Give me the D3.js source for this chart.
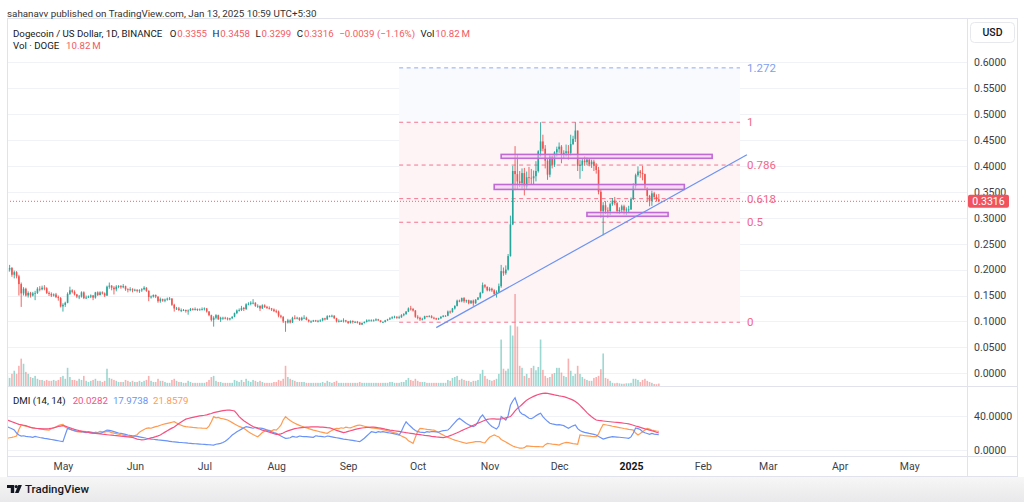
<!DOCTYPE html>
<html><head><meta charset="utf-8">
<script src="https://cdn.jsdelivr.net/npm/d3@7"></script>
<style>
html,body{margin:0;padding:0;background:#fff;}
svg{display:block;font-family:Roboto,"Noto Sans",sans-serif;}
</style></head><body>
<svg id="c" width="1024" height="502"></svg>
<script>
// ---------- DATA ----------
const startDate = "2024-04-07";
const firstOpen = 0.195;
const closes = [
 0.200,0.203,0.190,0.195,0.187,0.172,0.154,0.163,0.150,0.155,0.150,0.154,0.155,0.163,0.162,0.165,0.164,0.155,0.153,0.150,0.152,0.147,0.145,0.129,
 0.132,0.136,0.153,0.160,0.157,0.152,0.148,0.148,0.156,0.145,0.146,0.148,0.150,0.146,0.156,0.151,0.156,0.154,0.150,0.167,0.169,0.165,0.162,0.167,0.168,0.166,0.168,0.162,0.161,0.162,0.160,
 0.161,0.159,0.160,0.162,0.165,0.159,0.147,0.148,0.151,0.148,0.139,0.143,0.140,0.142,0.144,0.144,0.132,0.125,0.125,0.122,0.122,0.122,0.120,0.121,0.124,0.123,0.124,0.122,0.123,0.124,
 0.125,0.119,0.112,0.103,0.107,0.112,0.104,0.107,0.107,0.106,0.104,0.106,0.109,0.116,0.121,0.122,0.126,0.124,0.133,0.134,0.136,0.136,0.130,0.130,0.125,0.131,0.128,0.126,0.125,0.123,0.120,
 0.119,0.111,0.109,0.100,0.098,0.102,0.098,0.107,0.106,0.107,0.103,0.107,0.107,0.103,0.100,0.100,0.102,0.101,0.101,0.102,0.106,0.104,0.110,0.110,0.111,0.106,0.100,0.101,0.101,0.102,0.100,
 0.097,0.101,0.099,0.099,0.098,0.094,0.097,0.099,0.102,0.102,0.102,0.102,0.104,0.102,0.099,0.099,0.102,0.104,0.106,0.108,0.109,0.107,0.108,0.112,0.114,0.119,0.125,0.124,0.121,0.109,
 0.107,0.104,0.105,0.110,0.109,0.110,0.107,0.106,0.104,0.106,0.109,0.111,0.111,0.119,0.118,0.125,0.130,0.140,0.139,0.145,0.139,0.141,0.135,0.140,0.135,0.142,0.146,0.155,0.170,0.167,0.160,
 0.163,0.160,0.153,0.157,0.168,0.197,0.193,0.200,0.226,0.287,0.390,0.384,0.370,0.367,0.386,0.360,0.378,0.377,0.376,0.380,0.390,0.428,0.447,0.433,0.410,0.383,0.418,0.402,0.426,0.432,
 0.437,0.423,0.425,0.428,0.425,0.442,0.452,0.468,0.400,0.402,0.410,0.407,0.412,0.403,0.408,0.400,0.392,0.350,0.313,0.324,0.314,0.313,0.326,0.333,0.328,0.313,0.315,0.322,0.314,0.316,0.316,
 0.336,0.361,0.382,0.389,0.386,0.384,0.357,0.342,0.332,0.347,0.340,0.3355,0.3316
];
const highs = [
 0.205,0.209,0.205,0.198,0.197,0.190,0.175,0.166,0.165,0.158,0.157,0.157,0.159,0.166,0.168,0.169,0.170,0.166,0.158,0.156,0.154,0.155,0.150,0.147,
 0.135,0.138,0.156,0.167,0.162,0.160,0.153,0.151,0.158,0.158,0.150,0.150,0.152,0.151,0.157,0.158,0.158,0.158,0.156,0.169,0.175,0.170,0.168,0.170,0.170,0.170,0.172,0.169,0.164,0.166,0.164,
 0.163,0.162,0.162,0.164,0.168,0.166,0.160,0.150,0.152,0.152,0.148,0.146,0.144,0.144,0.146,0.147,0.145,0.134,0.128,0.128,0.125,0.124,0.123,0.123,0.126,0.126,0.127,0.125,0.125,0.127,
 0.127,0.126,0.120,0.113,0.110,0.114,0.113,0.109,0.109,0.109,0.108,0.107,0.110,0.117,0.123,0.125,0.130,0.128,0.135,0.137,0.139,0.143,0.137,0.133,0.131,0.133,0.133,0.130,0.129,0.126,0.125,
 0.123,0.121,0.113,0.110,0.101,0.105,0.104,0.109,0.112,0.109,0.108,0.109,0.112,0.109,0.104,0.102,0.103,0.103,0.103,0.104,0.107,0.107,0.112,0.112,0.113,0.112,0.107,0.104,0.103,0.106,0.103,
 0.101,0.102,0.102,0.101,0.101,0.099,0.098,0.100,0.104,0.104,0.104,0.104,0.106,0.105,0.102,0.100,0.103,0.105,0.108,0.110,0.111,0.110,0.111,0.114,0.116,0.120,0.127,0.130,0.126,0.122,
 0.112,0.109,0.107,0.111,0.111,0.112,0.112,0.109,0.107,0.107,0.110,0.112,0.112,0.121,0.121,0.126,0.131,0.142,0.142,0.146,0.147,0.142,0.142,0.141,0.142,0.143,0.147,0.157,0.175,0.172,0.167,
 0.166,0.165,0.162,0.160,0.173,0.209,0.204,0.208,0.230,0.304,0.400,0.438,0.421,0.390,0.395,0.396,0.389,0.398,0.394,0.391,0.409,0.430,0.484,0.460,0.440,0.413,0.422,0.420,0.428,0.437,
 0.445,0.440,0.430,0.441,0.440,0.460,0.458,0.484,0.468,0.412,0.414,0.418,0.416,0.414,0.412,0.412,0.405,0.398,0.355,0.330,0.332,0.320,0.329,0.338,0.340,0.330,0.320,0.325,0.325,0.320,0.323,
 0.339,0.366,0.385,0.399,0.392,0.400,0.385,0.359,0.344,0.352,0.350,0.345,0.3458
];
const lows = [
 0.190,0.196,0.186,0.183,0.183,0.150,0.128,0.150,0.148,0.146,0.146,0.148,0.141,0.153,0.158,0.160,0.160,0.153,0.149,0.147,0.148,0.145,0.140,0.127,
 0.119,0.128,0.135,0.151,0.154,0.150,0.145,0.143,0.146,0.143,0.143,0.145,0.145,0.141,0.144,0.149,0.150,0.152,0.147,0.149,0.163,0.160,0.152,0.158,0.164,0.163,0.164,0.159,0.156,0.158,0.156,
 0.158,0.156,0.155,0.157,0.160,0.157,0.139,0.144,0.146,0.145,0.136,0.136,0.138,0.137,0.140,0.141,0.130,0.119,0.122,0.120,0.118,0.120,0.117,0.113,0.120,0.121,0.121,0.120,0.121,0.121,
 0.121,0.117,0.110,0.100,0.090,0.104,0.103,0.099,0.103,0.104,0.102,0.102,0.105,0.108,0.114,0.119,0.120,0.120,0.122,0.131,0.131,0.133,0.128,0.126,0.120,0.124,0.126,0.124,0.123,0.120,0.118,
 0.116,0.108,0.106,0.097,0.080,0.096,0.096,0.097,0.104,0.104,0.101,0.101,0.105,0.102,0.098,0.097,0.099,0.099,0.098,0.099,0.100,0.102,0.103,0.108,0.108,0.105,0.098,0.098,0.099,0.098,0.098,
 0.095,0.096,0.096,0.097,0.096,0.093,0.093,0.096,0.098,0.100,0.100,0.100,0.101,0.101,0.098,0.097,0.098,0.101,0.103,0.105,0.106,0.105,0.105,0.107,0.110,0.113,0.118,0.121,0.119,0.107,
 0.104,0.101,0.102,0.104,0.108,0.108,0.106,0.104,0.103,0.103,0.105,0.108,0.109,0.110,0.115,0.117,0.123,0.129,0.137,0.137,0.136,0.136,0.133,0.134,0.130,0.134,0.141,0.144,0.154,0.164,0.158,
 0.158,0.157,0.151,0.146,0.155,0.165,0.188,0.190,0.198,0.225,0.286,0.353,0.355,0.359,0.356,0.343,0.355,0.366,0.363,0.363,0.370,0.387,0.418,0.428,0.395,0.373,0.378,0.395,0.398,0.418,
 0.425,0.405,0.415,0.418,0.412,0.420,0.440,0.446,0.390,0.375,0.390,0.400,0.402,0.399,0.396,0.390,0.385,0.345,0.300,0.266,0.307,0.300,0.305,0.323,0.324,0.308,0.307,0.310,0.306,0.305,0.309,
 0.315,0.334,0.356,0.379,0.377,0.372,0.355,0.330,0.322,0.323,0.335,0.331,0.3299
];
const volumes = [
 45,36,54,68,54,90,122,99,63,54,40,36,45,32,27,27,23,27,23,23,27,23,27,40,
 45,32,81,40,27,27,23,32,27,45,23,18,23,27,32,23,23,18,23,77,36,32,27,23,18,18,18,27,23,18,23,
 18,18,23,18,23,27,45,23,18,18,32,23,23,18,14,14,27,32,23,18,18,14,14,23,18,14,14,14,14,14,
 14,18,27,40,45,23,18,18,14,14,14,14,14,27,23,18,27,18,32,23,18,27,23,18,23,18,14,14,14,14,18,
 18,27,23,32,90,40,32,27,23,18,18,18,18,14,14,14,14,14,14,14,18,14,23,18,14,18,23,14,14,14,14,
 14,14,14,14,14,18,14,14,14,14,14,14,14,14,14,14,14,14,18,18,14,14,14,18,18,27,36,27,23,32,
 23,18,18,18,14,14,14,14,14,14,14,14,14,27,23,36,40,45,27,32,27,23,23,18,23,23,27,54,72,45,32,
 27,23,27,32,54,207,77,68,77,270,225,410,265,90,81,45,54,36,80,90,70,85,207,72,45,36,40,54,58,81,
 81,60,45,40,122,68,45,54,90,54,40,32,27,23,23,36,40,45,75,145,36,32,23,14,12,14,12,10,10,12,12,
 14,32,32,27,18,27,32,23,18,14,9,8,10.82
];
const adx = [
 35,34,33,32,31,30, 29.5,29,28.5,27.5,26.5,26, 25.5,25.2,25,24.8,24.7,24.8,25, 25.5,26,26.8,27.5,28,28.5,
 28,27,26,25,24.2,23.5,22.8,22.2,21.5, 21,20.6,20.2,19.8,19.5,19.2,19, 18.6,18.3,18,17.7,17.5,17.2,17,
 16.7,16.4,16.2,15.9,15.6,15.3,15, 14,13,12.5,12, 12.2,12.8,13.5,14.3,15,15.8,16.7,17.7, 19.3,21,22.6,24.2,25.6,27,
 29,31,32.8,34.5,36, 36.8,37.5,38.1,38.7,39.2,39.7,40.1,40.5,41, 41.8,42.6,43.5,44.2,44.8,45.3,45.8,46.2,46.6,
 46.5,46,45.4,42.5,39, 36.5,34.2,32.3,30.6,29, 27.6,26.4,25.3,24.3,23.4, 22.6,21.8,21,20.2,19.3,18.5,
 18.5,19,20,21.5,22.5,23.4,24.2,25, 25.5,25.9,26.2,26.5,26.7,26.8,27,27.1,27.2, 27.1,26.9,26.7,26.5,26.2,26,
 25,24,23,22.2,21.3,20.4, 21,21.8,22.6,23.4,24.2,24.8,25.4, 25.8,26.1,26.4,26.6,26.7,26.8,
 26.5,26.1,25.6,25.1,24.5,24,23.4, 23,22.6,22.2,21.8,21.3,20.9,20.4, 20,19.6,19.2,18.8,18.5,18.1,17.7,
 17.3,17,16.6,16.2,15.9,15.5,15.2,14.9,14.6, 15.2,16,17,18,19.2,20.3,21.5, 22.8,24,25.2,26.4,27.7,29,
 30.2,31.4,32.5,33.6,34.7,35.8, 36.2,36.4,36.3,36.1,36, 36.2,36.8,37.5,38.2,39,
 42,45.5,48.5,50.5,53,55.5,58, 59.5,61,62.3,63.5,64.5,65.3,65.9, 66,65.8,65.3,64.7,64.1,63.6,63,
 62.5,62,61.2,60.2,59.1,58,56.5,54.5,52, 49.2,46.4,43.6,41,38.8,36.8,35, 34.5,34.2,33.9,33.6,33.3,33,
 32.7,32.4,32.2,31.9,31.6,31.3,31, 30.5,29.8,29,28.1,27.3, 26.5,25.7,24.9,24.1,23.4,22.6,21.8,20.9,20.03
];
const plusDI = [
 27.3,26,25,23.5,20,17.7, 16.5,16.8,16.2,15.8,15.5,15, 16,15.4,14.8,14.3,13.8,13.4,13, 12.5,12,11.5,11,10.5,10,
 18,25.4,24.5,23.5,22.8,22.2,21.8,21.5, 21,20.5,21.5,21,20.5,20,19.8,19.6, 20.5,22,23.4,23,22.4,21.6,20.8,
 20,19.5,19,18.5,17.7,17.2,16.8, 16.3,16,15.5,15,14.5,13.9, 13.4,13,12.8,12.4,12,11.7,11.4,11.1,10.8,
 10.4,10,9.8,9.5,9.2,9,8.7,8.5,8.2,8, 7.8,7.6,7.4,7.2,7,6.8,6.6,6.4,6.2,6.1, 7,7.5,8,9,10.5,12.5,15,17.7,
 19.5,21.5,23,24.5,26,27.3, 26.8,26.2,25.5,26.5,26,25.7,25.4, 24.5,23.5,22.5,21.5,20.5,19.6, 18,16.5,15,13.9,
 14,14.5,16,15.5,15.2,16.5,16,15.8,15.7, 15.5,15.3,15,16.8,16.3,16,15.7,15.4,16.5,16,15.5,15,
 14.5,14,13.5,13,12.6,12.2,11.8,11.4,11,10.5,10, 12,14,16.5,19,21.5, 21,20.5,21.5,21,21.5,
 21,20.5,20,19.5,19,18.3,17.7, 22,28,33, 30,27.5,25,23,21.5, 21,20.8,20.5,21.5,21,21.7,21.5,
 21.2,21,22,22.8,23,23.4, 26,29,32,35,37, 35,33,31,29.5,28.3,27.3, 29,33,38,40.8,
 37,33,30,27.5,26,24.6, 28,39,37,35,40,52, 57,60.8,53,44.6, 42,41,39,37, 36.5,38,40,41.5,42.8,
 39,36,33.5,31.2, 30.5,30,29.5,29.7,29.2, 28.5,27,25.4,27,28.3,29.2, 25,23,21.5,20.8,20.2,19.5,19,18.4,17.7,
 16,14.5,13, 13.8,14.6,15.2,15.7, 15.5,15.3,15.1,14.8,14.5,14.2,13.9, 15.5,20,25.8, 25,24,21.5,20.3,19.4,18.5,
 19.5,18.8,18.4,17.97
];
const minusDI = [
 13.9,14.5,15,15.7,16.5, 24,29.2,28.5,27.8,27.2,26.6,26, 25.6,25.2,24.8,24.4,24,23.7,23.4, 25,26,27,28.5,29.5,30,
 27,25.5,24.5,23.3,22.3,21.5, 21.2,21,22,21.5,20.8,20.2,19.6, 21,20.6,21.8,21.4,21,21.8,21.5,
 20.5,19.8,19.2,18.6,18,17.5,17,16.5,16.1,15.7, 17,18,21,22.5,24,25.4, 26,25.5,26.5,27.3,
 28,29,29.8,30.5,31.2,31.8,32.4,33, 31.5,30.2,29,28,27.3, 27,26.8,26.5,26.3,26,25.8,25.6,25.5,25.4,
 28,33,38.9, 37.5,38,37,36.5,35.8,35, 33.5,32,30.5,29,27.6,26.5,25.4, 23.5,21.5,19.8,18.2,16.8,15.7,
 18,20.5,22,23.4, 23,22.5,23.8,23.4, 26,29,35,38.9, 36.5,34.5,32.8,31.2, 30,28.8,27.8,26.8,26,
 25,24.2,23.4,22.7,22,21.3,20.7,20.1,19.6, 21.5,23,24.5,25.4, 25,26,25.5,26.8,26.2,26, 27,28,28.8,29.2,
 28.5,27.8,27,26.5,26,25.7,25.4, 25,24.4,23.8,23.2,22.5,21.8,21,20.3,19.6, 18,16.5,15.2,13.9, 11,9.5,8,
 15,22,25.4, 25,24.6,24.2,23.9,23.6,23.4, 22,20.5,19,17.6,16.2,15,13.9, 12.8,11.8,11,10.2,9.4,8.7,8,
 8.5,9,9.5,10,10.2,10, 9,8.5,12,15,16.5,17.7, 16.5,15.5,12.5,11,9.5,8, 6.5,5,4,3.2,2.5, 2.4,3,5,
 4.8,4.6,4.4,4.3,4.2,4.1,4,6.5,8, 7.6,7.2,6.9,6.5,6, 7.5,8.5,9.2, 8.8,8.3,7.8,7.4,7,
 17.7,17.4,17,16.7,16.4,16.1,15.9,15.7, 19,25,30, 29.5,29,28.5,27.8,27.3, 26.8,26.3,25.8,25.2,24.7,24.2,23.8,23.4,
 20,17.7, 19.5,21.5,23.5,25.4, 24.5,23.5,22.8,22.3,21.86
];
const priceTicks = [0.6,0.55,0.5,0.45,0.4,0.35,0.3,0.25,0.2,0.15,0.1,0.05,0];
const dmiTicks = [40,0];
const monthTicks = ["2024-05-01","2024-06-01","2024-07-01","2024-08-01","2024-09-01","2024-10-01","2024-11-01","2024-12-01","2025-01-01","2025-02-01","2025-03-01","2025-04-01","2025-05-01"];
const monthLabels = ["May","Jun","Jul","Aug","Sep","Oct","Nov","Dec","2025","Feb","Mar","Apr","May"];
const fibLevels = [0,0.5,0.618,0.786,1,1.272];
const fibLabels = ["0","0.5","0.618","0.786","1","1.272"];
const fibLow = 0.0985, fibHigh = 0.4840;
const fibStart = "2024-09-23", fibEnd = "2025-02-17";
const trendPoints = [["2024-10-09",0.0881],["2025-02-20",0.4215]];
const zones = [
 {from:"2024-11-06",to:"2025-02-05",top:0.422,bottom:0.4145},
 {from:"2024-11-03",to:"2025-01-24",top:0.364,bottom:0.3545},
 {from:"2024-12-13",to:"2025-01-17",top:0.310,bottom:0.3027}
];
const lastPrice = 0.3316;
const headerItems = [
 ["Dogecoin / US Dollar, 1D, BINANCE","k"],["O","k"],["0.3355","v"],["H","k"],["0.3458","v"],["L","k"],["0.3299","v"],
 ["C","k"],["0.3316","v"],["\u22120.0039 (\u22121.16%)","v"],["Vol","k"],["10.82\u2009M","v"]
];
const dmiLegend = [["DMI (14, 14)","k"],["20.0282","adx"],["17.9738","plus"],["21.8579","minus"]];

// ---------- SETUP ----------
const svg = d3.select("#c");
const parse = d3.utcParse("%Y-%m-%d");
const t0 = parse(startDate);
const bars = closes.map((c,i)=>{
  const o = i===0 ? firstOpen : closes[i-1];
  return {date:d3.utcDay.offset(t0,i), o, c, h:Math.max(highs[i],o,c), l:Math.min(lows[i],o,c), v:volumes[i]};
});
const L = 7, R = 967, PT = 18, PB = 386, DT = 386, DB = 456, AB = 476;
const x = d3.scaleUtc().domain([parse("2024-04-07"), parse("2025-01-01")]).range([7.3, 631]);
const y = d3.scaleLinear().domain([0,0.6]).range([373.3,62.1]);
const yV = d3.scaleLinear().domain([0,410]).range([386,294]);
const yD = d3.scaleLinear().domain([0,40]).range([450.3,415.7]);
const GREEN="#26a69a", RED="#ef5350";
const COL = {k:"#131722", v:"#f25a64", adx:"#f5507f", plus:"#6b93f6", minus:"#ff9b50"};

const defs = svg.append("defs");
defs.append("clipPath").attr("id","cp").append("rect").attr("x",L).attr("y",PT).attr("width",R-L).attr("height",PB-PT);
defs.append("clipPath").attr("id","cd").append("rect").attr("x",L).attr("y",DT+1).attr("width",R-L).attr("height",DB-DT-1);
const grad = defs.append("linearGradient").attr("id","bg").attr("x1",0).attr("y1",0).attr("x2",0).attr("y2",1);
grad.append("stop").attr("offset","0").attr("stop-color","#f6f6f7");
grad.append("stop").attr("offset","1").attr("stop-color","#e9e9eb");

// bottom strip
svg.append("rect").attr("x",0).attr("y",AB+1).attr("width",1024).attr("height",502-AB-1).attr("fill","url(#bg)");

// grid
svg.append("g").selectAll("line").data(priceTicks).join("line")
  .attr("x1",L).attr("x2",R).attr("y1",d=>Math.round(y(d))+0.5).attr("y2",d=>Math.round(y(d))+0.5)
  .attr("stroke","#f0f2f5");
svg.append("g").selectAll("line").data(dmiTicks).join("line")
  .attr("x1",L).attr("x2",R).attr("y1",d=>Math.round(yD(d))+0.5).attr("y2",d=>Math.round(yD(d))+0.5)
  .attr("stroke","#f0f2f5");

const main = svg.append("g").attr("clip-path","url(#cp)");

// fib backgrounds
const fx1 = x(parse(fibStart)), fx2 = x(parse(fibEnd));
const fibPrice = l => fibLow + l*(fibHigh-fibLow);
main.append("rect").attr("x",fx1).attr("width",fx2-fx1)
  .attr("y",y(fibPrice(1))).attr("height",y(fibPrice(0))-y(fibPrice(1))).attr("fill","#fef4f6");
main.append("rect").attr("x",fx1).attr("width",fx2-fx1)
  .attr("y",y(fibPrice(1.272))).attr("height",y(fibPrice(1))-y(fibPrice(1.272))).attr("fill","#f9fafe");

// volume
const bw = 1.6;
main.append("g").selectAll("rect").data(bars).join("rect")
  .attr("x",d=>x(d.date)-bw/2).attr("width",bw)
  .attr("y",d=>yV(d.v)).attr("height",d=>yV(0)-yV(d.v))
  .attr("fill",d=>d.c>=d.o?GREEN:RED).attr("fill-opacity",0.45);

// fib lines
main.append("g").selectAll("line").data(fibLevels).join("line")
  .attr("x1",fx1).attr("x2",fx2).attr("y1",d=>y(fibPrice(d))).attr("y2",d=>y(fibPrice(d)))
  .attr("stroke",d=>d===1.272?"#8ea9f3":"#f4738f").attr("stroke-width",1).attr("stroke-dasharray","4,3.5");

// candles
const cg = main.append("g");
cg.selectAll("line").data(bars).join("line")
  .attr("x1",d=>x(d.date)).attr("x2",d=>x(d.date)).attr("y1",d=>y(d.h)).attr("y2",d=>y(d.l))
  .attr("stroke",d=>d.c>=d.o?GREEN:RED).attr("stroke-width",0.9);
cg.selectAll("rect").data(bars).join("rect")
  .attr("x",d=>x(d.date)-bw/2).attr("width",bw)
  .attr("y",d=>y(Math.max(d.o,d.c))).attr("height",d=>Math.max(0.8,Math.abs(y(d.o)-y(d.c))))
  .attr("fill",d=>d.c>=d.o?GREEN:RED);

// zones
main.append("g").selectAll("rect").data(zones).join("rect")
  .attr("x",d=>x(parse(d.from))).attr("width",d=>x(parse(d.to))-x(parse(d.from)))
  .attr("y",d=>y(d.top)).attr("height",d=>y(d.bottom)-y(d.top))
  .attr("fill","#ecc8f1").attr("fill-opacity",0.55).attr("stroke","#c06ad3").attr("stroke-width",1.6);

// trend line
main.append("path").datum(trendPoints)
  .attr("d",d3.line().x(d=>x(parse(d[0]))).y(d=>y(d[1])))
  .attr("fill","none").attr("stroke","#6b93f2").attr("stroke-width",1.2);

// last price line
main.append("line").attr("x1",L).attr("x2",R).attr("y1",y(lastPrice)).attr("y2",y(lastPrice))
  .attr("stroke","#f2606b").attr("stroke-width",1).attr("stroke-dasharray","1,2");

// fib labels
svg.append("g").selectAll("text").data(fibLevels).join("text")
  .attr("x",fx2+7).attr("y",d=>y(fibPrice(d))).attr("dy","0.36em")
  .attr("font-size",11.5).attr("fill",(d)=>d===1.272?"#7f9ef0":"#f2668a")
  .text((d,i)=>fibLabels[i]);

// DMI lines
const dg = svg.append("g").attr("clip-path","url(#cd)");
const dline = d3.line().x((v,i)=>x(d3.utcDay.offset(t0,i))).y(v=>yD(v));
[[minusDI,COL.minus],[plusDI,COL.plus],[adx,COL.adx]].forEach(([arr,col])=>{
  dg.append("path").datum(arr).attr("d",dline).attr("fill","none").attr("stroke",col).attr("stroke-width",1.2);
});

// frame & separators
svg.append("rect").attr("x",L+0.5).attr("y",PT+0.5).attr("width",1017-L).attr("height",AB-PT)
  .attr("fill","none").attr("stroke","#e0e3eb");
svg.append("line").attr("x1",R+0.5).attr("x2",R+0.5).attr("y1",PT).attr("y2",AB).attr("stroke","#e0e3eb");
svg.append("line").attr("x1",L).attr("x2",1018).attr("y1",DT+0.5).attr("y2",DT+0.5).attr("stroke","#e0e3eb");
svg.append("line").attr("x1",L).attr("x2",1018).attr("y1",DB+0.5).attr("y2",DB+0.5).attr("stroke","#e0e3eb");

// price axis
const pa = svg.append("g").attr("transform",`translate(974,0)`)
  .call(d3.axisRight(y).tickValues(priceTicks).tickFormat(d3.format(".4f")).tickSize(0).tickPadding(0));
pa.select(".domain").remove();
pa.selectAll("text").attr("font-size",10.5).attr("fill","#3b3f4a").attr("font-family","Roboto, sans-serif");
const da = svg.append("g").attr("transform",`translate(974,0)`)
  .call(d3.axisRight(yD).tickValues(dmiTicks).tickFormat(d3.format(".4f")).tickSize(0).tickPadding(0));
da.select(".domain").remove();
da.selectAll("text").attr("font-size",10.5).attr("fill","#3b3f4a").attr("font-family","Roboto, sans-serif");

// last price label
const ly = y(lastPrice);
svg.append("rect").attr("x",968).attr("y",ly-6.5).attr("width",41).attr("height",13).attr("rx",2).attr("fill","#f0535e");
svg.append("text").attr("x",988.5).attr("y",ly).attr("dy","0.36em").attr("text-anchor","middle")
  .attr("font-size",10.5).attr("fill","#fff").text(lastPrice.toFixed(4));

// USD box
svg.append("rect").attr("x",970.5).attr("y",22.5).attr("width",44).attr("height",20).attr("rx",4)
  .attr("fill","#fff").attr("stroke","#e6e8ee");
svg.append("text").attr("x",992.5).attr("y",32.5).attr("dy","0.36em").attr("text-anchor","middle")
  .attr("font-size",10.5).attr("font-weight",500).attr("fill","#131722").text("USD");

// time axis
const ta = svg.append("g").attr("transform",`translate(0,${DB})`)
  .call(d3.axisBottom(x).tickValues(monthTicks.map(parse)).tickFormat((d,i)=>monthLabels[i]).tickSize(0));
ta.select(".domain").remove();
ta.selectAll("text").attr("y",10).attr("dy","0.36em").attr("font-size",10.5)
  .attr("font-family","Roboto, sans-serif")
  .attr("font-weight",(d,i)=>monthLabels[i]==="2025"?700:400)
  .attr("fill",(d,i)=>monthLabels[i]==="2025"?"#131722":"#3b3f4a");

// flowing text helper
function flow(items, x0, yb, size, gapAfterKey, gapAfterVal){
  let cx = x0, prev = null;
  const g = svg.append("g");
  items.forEach(([txt,kind],i)=>{
    if(i>0) cx += (prev==="k" && kind!=="k") ? gapAfterKey : gapAfterVal;
    if(i===1) cx += 2;
    const t = g.append("text").attr("x",cx).attr("y",yb).attr("font-size",size).attr("fill",COL[kind]).text(txt);
    cx += t.node().getComputedTextLength();
    prev = kind;
  });
}

// header texts
svg.append("text").attr("x",7).attr("y",17).attr("font-size",9.8).attr("fill","#333")
  .text("sahanavv published on TradingView.com, Jan 13, 2025 10:59 UTC+5:30");
flow(headerItems, 13, 37, 9.7, 0.8, 5.5);
svg.append("text").attr("x",13).attr("y",48.5).attr("font-size",9.7).attr("fill",COL.k).text("Vol \u00b7 DOGE");
svg.append("text").attr("x",66).attr("y",48.5).attr("font-size",9.7).attr("fill",COL.v).text("10.82\u2009M");

// DMI legend
flow(dmiLegend, 13, 403.5, 9.7, 5, 5);

// TradingView logo
const lg = svg.append("g").attr("fill","#131722");
lg.append("path").attr("d","M7 485h7.2v8h-3.4v-5h-3.8z");
lg.append("circle").attr("cx",16.2).attr("cy",486.6).attr("r",1.6);
lg.append("path").attr("d","M18.3 485h3.6l-3.3 8h-3.6z");
svg.append("text").attr("x",25).attr("y",493).attr("font-size",11.5).attr("font-weight",500).attr("fill","#131722").text("TradingView");
</script>
</body></html>
